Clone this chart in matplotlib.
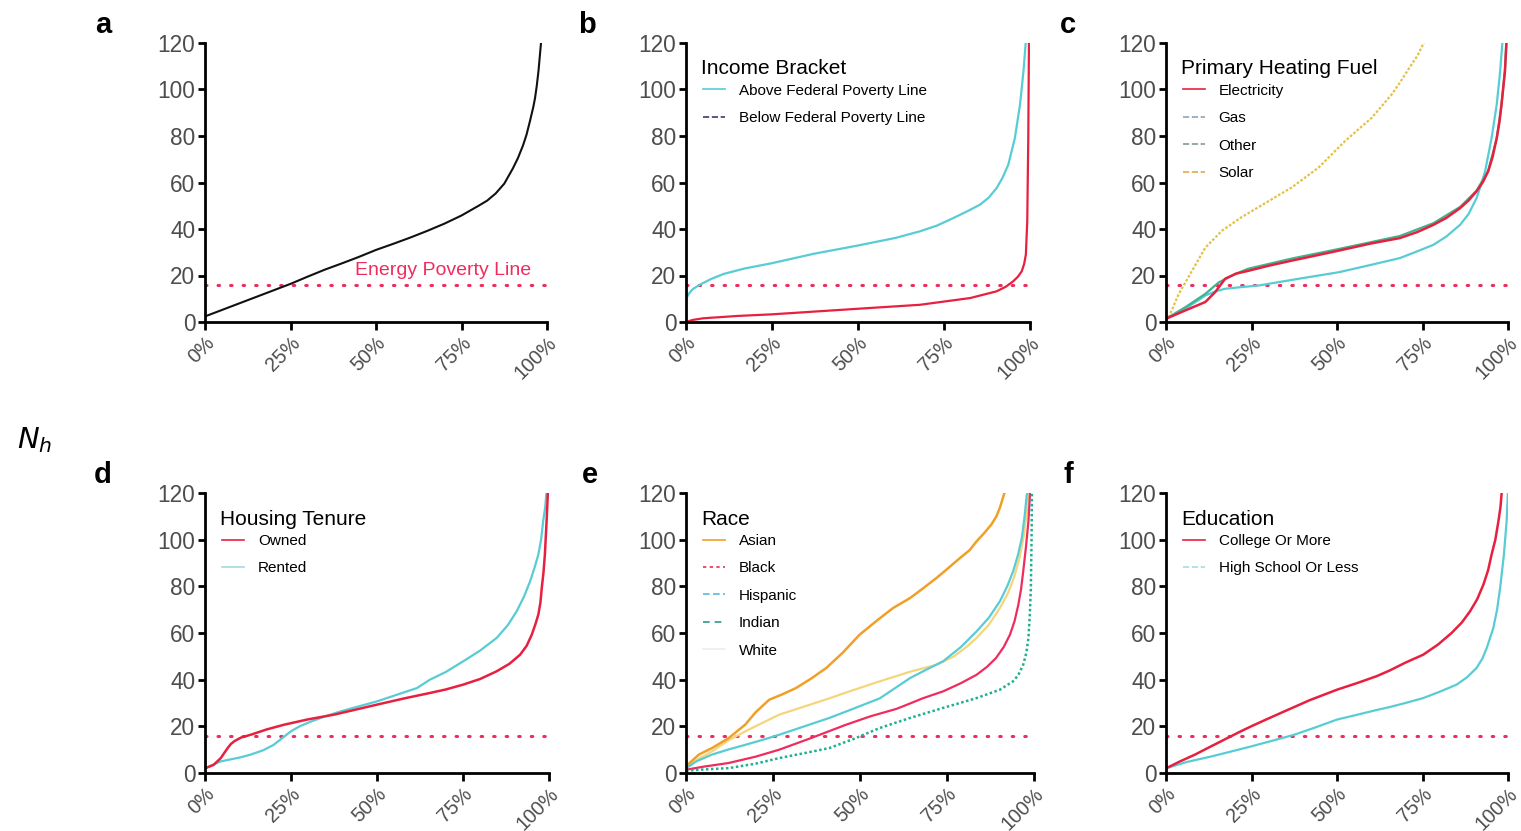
import matplotlib.pyplot as plt
from matplotlib.lines import Line2D

plt.rcParams['font.family'] = ['Liberation Sans', 'DejaVu Sans']

RED = '#e8203f'
CYAN = '#58ccd4'
PINK = '#ee2d5e'
POVERTY = 15.7

# a: all households
a_x = [0, 5, 10, 15, 20, 25, 30, 35, 40, 45, 50, 55, 60, 65, 70, 75, 80, 82.5, 85, 87.5,
       90, 91.5, 93, 94, 95, 96, 96.5, 97, 97.5, 98, 98.3]
a_y = [2.4, 5.2, 8, 10.8, 13.6, 16.4, 19.5, 22.5, 25.2, 28, 31, 33.6, 36.3, 39.2, 42.3, 45.8, 50, 52.2, 55.3, 59.5,
       66, 70.5, 76, 80.5, 86.3, 92.5, 96.3, 101.5, 107.8, 116, 121]

# b: income bracket
b_above_x = [0, 1, 2, 4, 7, 11, 17, 25, 37, 50, 61, 68, 73, 77.7, 82, 85.5, 88, 90.3, 92, 93.7, 95.6, 97.1, 98.1, 98.8]
b_above_y = [10, 12.5, 14.2, 16, 18.3, 20.7, 23, 25.3, 29.3, 32.9, 36.2, 39, 41.5, 44.7, 47.8, 50.5, 53.5, 57.6, 62,
             67.7, 79.1, 93.5, 107.8, 121]
b_below_x = [0, 2, 5, 15, 25, 50, 68, 82.6, 90.3, 93, 95.1, 96.5, 97.6, 98.3, 98.8, 99.2, 99.5, 99.7]
b_below_y = [0, 0.9, 1.6, 2.6, 3.3, 5.7, 7.4, 10.3, 13.2, 15.2, 17.5, 19.5, 21.8, 25, 29, 43.3, 79, 121]

# c: primary heating fuel
c_elec_x = [0, 5.7, 11.5, 14.4, 17.3, 20.5, 24, 30, 36.8, 50.5, 60, 68.4, 73.5, 78.2, 82, 86, 88.5, 90.8, 92.7,
            94.2, 95.5, 96.7, 97.5, 98.1, 99.1, 99.6]
c_elec_y = [1.4, 5, 8.6, 12.9, 18.6, 20.8, 22, 24.2, 26.4, 30.7, 33.8, 36.1, 38.7, 41.8, 44.8, 49, 52.3, 56.2, 60.3,
            64.8, 71, 79.1, 86, 93.5, 107.8, 121]
c_other_x = [0, 5.7, 11.5, 15.4, 20, 24, 36.8, 50.5, 68.4, 78.2, 86, 90.8, 94.2, 96.7, 98.1, 99.1, 99.5]
c_other_y = [1.4, 6.4, 12.1, 17, 20.5, 22.9, 27.3, 31.4, 37, 42.5, 49.5, 56.5, 65, 79, 93.5, 108, 121]
c_gas_x = [0, 5.7, 11.5, 14.5, 17.3, 22, 27.1, 38.8, 50.5, 61.2, 68.4, 73.3, 78.2, 82, 86, 88.5, 90.8, 92, 93.3,
           95.2, 96.7, 97.7, 98.4]
c_gas_y = [1.4, 5.7, 11.4, 13.2, 14.3, 15, 15.7, 18.6, 21.4, 25, 27.5, 30.3, 33.2, 36.8, 41.8, 46.5, 53.3, 58.5, 64.8,
           79.1, 93.5, 107.8, 121]
c_solar_x = [0.8, 3.7, 7.6, 11.5, 16.4, 22, 30, 36.8, 44.6, 52.4, 60.2, 66, 68.4, 71, 73.5, 75.7]
c_solar_y = [2, 12, 22, 32, 39.3, 45, 52, 57.9, 66.4, 77.9, 87.9, 97.9, 103, 109, 114.5, 121]

# d: housing tenure
d_owned_x = [0, 2.5, 4.6, 5.6, 6.6, 7.5, 8.5, 10.5, 13.3, 18, 23, 30, 37.5, 50, 58, 65.4, 70, 75.1, 80, 84.8, 88.5,
             91.6, 93.5, 95, 96.1, 96.9, 97.5, 97.9, 98.4, 98.8, 99.3, 99.7]
d_owned_y = [2, 3.5, 6.4, 8.6, 10.7, 12.4, 13.6, 15.2, 16.4, 18.7, 20.7, 23, 25, 29.3, 32, 34.3, 35.8, 37.9, 40.3,
             43.6, 46.8, 50.7, 54.5, 59.3, 64, 67.9, 73, 79.3, 86, 93.6, 107.9, 121]
d_rented_x = [0, 4.6, 10, 13.3, 17, 20, 22.5, 25, 27.5, 30.7, 35, 39.4, 50, 61.6, 65.4, 70, 75.1, 80, 84.8, 88,
              90.6, 92.7, 94.5, 95.8, 96.9, 97.7, 98.3, 98.9, 99.3]
d_rented_y = [2, 5, 6.6, 7.9, 9.8, 12.1, 15, 17.9, 20, 22, 24.3, 26.4, 30.7, 36.4, 40, 43.3, 47.9, 52.5, 57.9, 63.3,
              69.3, 75.5, 82.1, 88, 93.6, 100, 107.9, 114, 121]

# e: race
e_asian_x = [0, 3.7, 7.5, 12.3, 17, 20, 23.9, 27.5, 31.6, 36, 40.3, 45, 49.9, 55, 59.5, 64.4, 68, 72, 75.5, 78.7,
             81.5, 83.5, 85.8, 87.8, 89.2, 90.2, 91.7]
e_asian_y = [2.9, 7.9, 10.7, 15, 20.7, 26, 31.4, 33.6, 36.4, 40.5, 45, 51.5, 59.3, 65.5, 70.7, 75, 79, 83.6, 88,
             92.1, 95.5, 99.3, 103, 106.6, 110, 113.7, 121]
e_white_x = [0, 3, 7.5, 12, 17.1, 22, 26.8, 34, 41.2, 48, 55.7, 64.4, 72, 77, 81, 83.5, 87, 90.2, 92.5, 94.3, 95.8,
             97, 97.8, 98.5]
e_white_y = [2, 5.5, 9.3, 13.8, 17.9, 21.5, 25, 28.5, 32, 35.5, 39.3, 43.4, 46.4, 50, 54.5, 57.9, 63.5, 70.7, 77,
             84, 92, 101, 110, 121]
e_hisp_x = [0, 3, 7.5, 12, 17.1, 22, 26.8, 34, 41.2, 48, 55.7, 64.4, 70, 73.9, 79, 83.5, 87, 90.2, 92.3, 94, 95.4,
            96.5, 97.3, 97.9, 98.3]
e_hisp_y = [2, 5, 7.9, 10, 12.1, 14.2, 16.4, 20, 23.6, 27.5, 32, 40.7, 45, 47.9, 54, 60.7, 66.5, 73.6, 80, 86.4,
            93.5, 100.7, 110, 119, 121]
e_black_x = [0, 5, 12.3, 20, 26.8, 36, 46, 53, 60.5, 64.4, 68, 73.9, 79, 83.5, 86.5, 89.1, 91.3, 93.1, 94.4, 95.5,
             96.3, 96.9, 97.7, 98.4, 98.9]
e_black_y = [1.4, 2.7, 4.3, 7, 10, 15, 20.7, 24.3, 27.5, 29.8, 32, 35, 38.5, 42.1, 45.5, 49.3, 54, 59.3, 65, 72.1,
             79, 86.4, 97, 107.9, 121]
e_indian_x = [0, 5, 12.3, 20, 26.8, 34, 41.2, 48, 55.7, 64.4, 73.9, 83.5, 90.2, 94, 95.5, 96.9, 97.8, 98.4, 98.8,
              99.1, 99.3, 99.4]
e_indian_y = [1, 1.5, 2.1, 4, 6.4, 8.5, 10.7, 14.5, 19.3, 23.6, 27.9, 32.1, 35.7, 39.3, 42, 46.4, 51.5, 57.9, 68,
              79.3, 100.7, 121]

# f: education
f_college_x = [0, 4, 8.5, 13, 18, 21.5, 24.9, 30, 34.6, 42, 50, 56, 61.6, 65.5, 70, 75.2, 79.5, 83.5, 86.5, 88.9,
               91, 92.8, 94.2, 95.2, 96.3, 97.2, 97.8, 98.2]
f_college_y = [2, 4.9, 7.9, 11.3, 15, 17.6, 20, 23.4, 26.4, 31.2, 35.7, 38.6, 41.5, 44, 47.3, 50.7, 55, 60, 64.5,
               69.3, 74.5, 80.7, 87, 93.6, 100, 107.9, 114, 121]
f_hs_x = [0, 6, 13.3, 19, 24.9, 31, 37.5, 44, 50, 56, 61.6, 65.5, 70, 75.2, 80, 85, 88, 90.8, 92.5, 93.8, 95.7,
          96.8, 97.7, 98.8, 99.6, 100]
f_hs_y = [2, 4.7, 7.1, 9.2, 11.4, 13.8, 16.4, 19.7, 22.9, 25, 27, 28.3, 30, 32.1, 34.8, 37.9, 41, 45, 49, 53.6,
          62.1, 70, 79.3, 93.6, 107.9, 121]

x_ticks = [0, 25, 50, 75, 100]
x_labels = ['0%', '25%', '50%', '75%', '100%']
y_ticks = [0, 20, 40, 60, 80, 100, 120]

W, H = 1521, 831
fig = plt.figure(figsize=(W / 100, H / 100), dpi=100)


def make_ax(x0, x1, ytop, ybot):
    ax = fig.add_axes([x0 / W, 1 - ybot / H, (x1 - x0) / W, (ybot - ytop) / H])
    ax.set_xlim(0, 100)
    ax.set_ylim(0, 120)
    for s in ['top', 'right']:
        ax.spines[s].set_visible(False)
    for s in ['left', 'bottom']:
        ax.spines[s].set_linewidth(2)
        ax.spines[s].set_color('black')
    ax.set_xticks(x_ticks)
    ax.set_xticklabels(x_labels, rotation=45, ha='right', rotation_mode='anchor')
    ax.set_yticks(y_ticks)
    ax.tick_params(axis='x', length=6, width=2, labelsize=14.3, labelcolor='#4d4d4d', pad=2)
    ax.tick_params(axis='y', length=5, width=2, labelsize=16.3, labelcolor='#4d4d4d', pad=2)
    ax.axhline(POVERTY, color=PINK, lw=2.2, linestyle=(0, (0.5, 3.6)),
               dash_capstyle='round')
    return ax


def legend(ax, title, handles):
    ax.text(0.045, 0.907, title, transform=ax.transAxes, fontsize=15,
            ha='left', va='center', color='black')
    ax.legend(handles=handles, loc='upper left', frameon=False, fontsize=11,
              handlelength=1.45, handletextpad=0.9, labelspacing=0.88,
              borderpad=0, borderaxespad=0, bbox_to_anchor=(0.049, 0.854))


row1 = (43, 322)
row2 = (493, 773)

# a
ax = make_ax(205, 547, *row1)
ax.plot(a_x, a_y, color='#111111', lw=1.5)
ax.text(95.5, 18.3, 'Energy Poverty Line', color=PINK, fontsize=14, ha='right', va='bottom')

# b
ax = make_ax(686, 1030, *row1)
ax.plot(b_above_x, b_above_y, color=CYAN, lw=1.6)
ax.plot(b_below_x, b_below_y, color=RED, lw=1.6)
legend(ax, 'Income Bracket', [
    Line2D([], [], color=CYAN, lw=1.2, label='Above Federal Poverty Line'),
    Line2D([], [], color='#3b3b6b', ls='--', lw=1.2, label='Below Federal Poverty Line'),
])

# c
ax = make_ax(1166, 1508, *row1)
ax.plot(c_solar_x, c_solar_y, color='#e3c24a', lw=1.6, ls=(0, (1.2, 0.8)))
ax.plot(c_gas_x, c_gas_y, color=CYAN, lw=1.6)
ax.plot(c_other_x, c_other_y, color='#3fb38f', lw=1.6)
ax.plot(c_elec_x, c_elec_y, color=RED, lw=1.8)
legend(ax, 'Primary Heating Fuel', [
    Line2D([], [], color=RED, lw=1.2, label='Electricity'),
    Line2D([], [], color='#8fa3b8', ls='--', lw=1.2, label='Gas'),
    Line2D([], [], color='#8a9a96', ls='--', lw=1.2, label='Other'),
    Line2D([], [], color='#e6a84a', ls='--', lw=1.2, label='Solar'),
])

# d
ax = make_ax(205, 549, *row2)
ax.plot(d_rented_x, d_rented_y, color=CYAN, lw=1.6)
ax.plot(d_owned_x, d_owned_y, color=RED, lw=1.8)
legend(ax, 'Housing Tenure', [
    Line2D([], [], color=RED, lw=1.2, label='Owned'),
    Line2D([], [], color='#9fdde2', ls='-', lw=1.2, label='Rented'),
])

# e
ax = make_ax(686, 1034, *row2)
ax.plot(e_white_x, e_white_y, color='#f3d67c', lw=1.6)
ax.plot(e_hisp_x, e_hisp_y, color=CYAN, lw=1.6)
ax.plot(e_black_x, e_black_y, color=PINK, lw=1.6)
ax.plot(e_indian_x, e_indian_y, color='#1fb08f', lw=1.8, ls=(0, (1, 1)))
ax.plot(e_asian_x, e_asian_y, color='#f0a028', lw=1.8)
legend(ax, 'Race', [
    Line2D([], [], color='#f0a028', lw=1.2, label='Asian'),
    Line2D([], [], color=PINK, ls=(0, (2, 2)), lw=1.2, label='Black'),
    Line2D([], [], color='#5ab8e0', ls=(0, (4, 2)), lw=1.2, label='Hispanic'),
    Line2D([], [], color='#2a9a8a', ls=(0, (4, 3)), lw=1.2, label='Indian'),
    Line2D([], [], color='#eeeeee', ls='-', lw=1.2, label='White'),
])

# f
ax = make_ax(1166, 1508, *row2)
ax.plot(f_hs_x, f_hs_y, color=CYAN, lw=1.6)
ax.plot(f_college_x, f_college_y, color=RED, lw=1.8)
legend(ax, 'Education', [
    Line2D([], [], color=RED, lw=1.2, label='College Or More'),
    Line2D([], [], color='#a8dde0', ls='--', lw=1.2, label='High School Or Less'),
])

for lab, px, py in [('a', 103, 25), ('b', 587, 25), ('c', 1068, 25),
                    ('d', 103, 475), ('e', 590, 475), ('f', 1068, 475)]:
    fig.text(px / W, 1 - py / H, lab, fontsize=21, fontweight='bold', ha='center', va='center')

fig.text(35 / W, 1 - 440 / H, r'$N_h$', fontsize=21, ha='center', va='center')

fig.savefig('out.png', dpi=100, facecolor='white')
